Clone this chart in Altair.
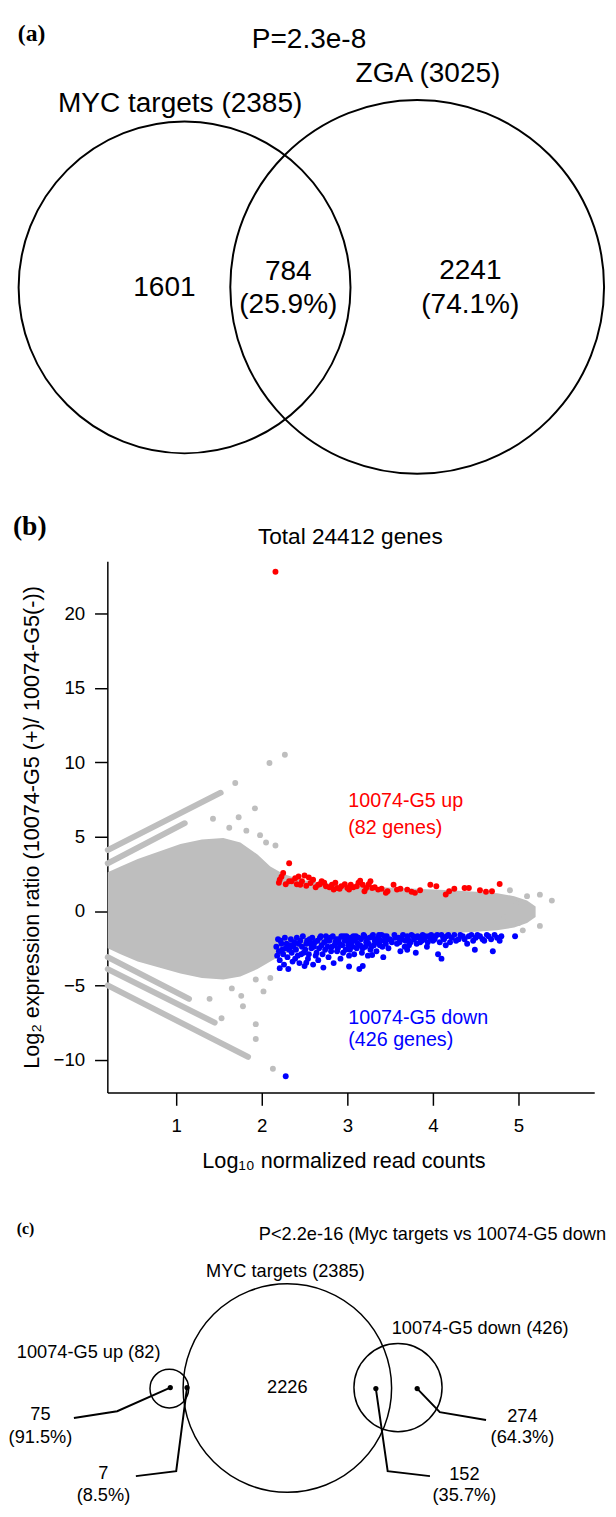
import altair as alt
import pandas as pd

SANS = "Liberation Sans"
SERIF = "Liberation Serif"
GREY = "#BEBEBE"

# ---------------- data: panel (a) ----------------
A_SET_NAMES = ["MYC targets", "ZGA"]
A_SET_TOTALS = [2385, 3025]
A_REGION_COUNTS = [1601, 784, 2241]
A_REGION_PCTS = ["", "25.9%", "74.1%"]
A_P_VALUE = "2.3e-8"

# ---------------- data: panel (b) ----------------
B_TITLE = "Total 24412 genes"
B_X_TICKS = [1, 2, 3, 4, 5]
B_Y_TICKS = [-10, -5, 0, 5, 10, 15, 20]
# dense grey core (log10 counts, upper / lower log2 ratio envelope)
CORE_U = [0.20, 0.35, 0.55, 0.80, 1.05, 1.30, 1.55, 1.75, 1.95, 2.10, 2.25, 2.45,
          2.70, 3.00, 3.40, 3.80, 4.20, 4.50, 4.75, 4.95, 5.10, 5.20]
CORE_TOP = [2.6, 3.0, 3.5, 4.0, 4.5, 4.8, 4.9, 4.6, 3.8, 3.0, 2.5, 2.1,
            1.9, 1.7, 1.6, 1.5, 1.4, 1.3, 1.2, 1.0, 0.7, 0.3]
CORE_BOTTOM = [-2.5, -2.9, -3.4, -3.8, -4.2, -4.5, -4.6, -4.4, -3.9, -3.4, -2.9, -2.5,
               -2.2, -1.9, -1.7, -1.6, -1.5, -1.4, -1.3, -1.1, -0.8, -0.4]
# low-count diagonal stripes
STRIPE_ID = ["s1", "s1", "s2", "s2", "s3", "s3", "s4", "s4", "s5", "s5"]
STRIPE_U = [0.20, 1.52, 0.20, 1.10, 0.20, 1.15, 0.20, 1.45, 0.20, 1.84]
STRIPE_V = [4.1, 7.95, 3.2, 5.9, -3.1, -5.9, -3.9, -7.5, -5.0, -9.8]
# isolated grey genes
GREY_U = [1.43, 1.69, 1.73, 1.92, 2.09, 2.27, 1.62, 1.82, 1.98, 2.16, 2.05,
          1.39, 1.53, 1.78, 1.93, 1.93, 2.13, 1.93, 2.02, 1.76, 1.65, 2.10,
          4.97, 5.10, 5.25, 5.39, 5.25, 4.83, 5.05, 4.90, 5.00]
GREY_V = [6.2, 8.6, 6.3, 6.9, 9.95, 10.5, 5.6, 5.4, 5.1, 4.4, 4.6,
          -5.9, -7.2, -6.4, -7.6, -8.6, -10.6, -4.6, -5.4, -5.7, -5.2, -4.5,
          0.55, 1.0, 1.1, 0.7, -1.0, -0.4, -1.3, 1.4, -0.8]
# 10074-G5 up genes (red)
UP_U = [2.16, 2.32, 2.21, 2.25, 2.32, 2.39, 2.43, 2.50, 2.55, 2.45, 2.57, 2.70, 2.75,
        2.82, 2.88, 2.93, 3.00, 3.04, 3.15, 3.18, 3.22, 3.27, 3.29, 3.36, 3.47, 3.58,
        3.70, 3.79, 3.97, 4.04, 4.15, 4.19, 4.37, 4.42, 4.69, 4.78, 3.02, 2.66, 2.84,
        3.11, 3.20, 3.45, 3.54,
        2.20, 2.23, 2.28, 2.35, 2.41, 2.47, 2.52, 2.60, 2.63, 2.68, 2.73, 2.79, 2.86,
        2.91, 2.97, 3.07, 3.13, 3.25, 3.32, 3.40, 3.62, 3.75, 3.85, 4.25, 4.55, 4.62]
UP_V = [22.8, 3.21, 2.10, 2.55, 2.00, 2.20, 2.32, 2.39, 2.26, 1.77, 1.88, 2.00, 1.66,
        1.77, 1.55, 1.66, 1.55, 1.77, 2.04, 1.77, 1.55, 2.00, 1.55, 1.44, 1.33, 1.44,
        1.44, 1.22, 1.77, 1.66, 1.11, 1.33, 1.55, 1.55, 1.33, 1.82, 1.44, 1.77, 1.44,
        1.66, 1.33, 1.22, 1.77,
        1.9, 2.3, 1.8, 2.0, 1.8, 2.0, 1.7, 2.1, 1.6, 1.8, 1.9, 1.6, 1.9,
        1.5, 1.8, 1.6, 1.9, 1.8, 1.6, 1.5, 1.5, 1.3, 1.4, 1.5, 1.4, 1.3]
# 10074-G5 down genes (blue)
DOWN_U = [2.28, 2.17, 2.18, 2.20, 2.21, 2.23, 2.25, 2.26, 2.28, 2.30, 2.31, 2.33, 2.35,
          2.36, 2.38, 2.40, 2.42, 2.44, 2.45, 2.47, 2.49, 2.50, 2.52, 2.54, 2.56, 2.58,
          2.60, 2.62, 2.64, 2.66, 2.68, 2.70, 2.72, 2.74, 2.76, 2.78, 2.80, 2.82, 2.84,
          2.86, 2.88, 2.90, 2.92, 2.94, 2.96, 2.98, 3.00, 3.02, 3.04, 3.06, 3.08, 3.10,
          3.12, 3.14, 3.16, 3.18, 3.20, 3.22, 3.24, 3.26, 3.28, 3.30, 3.32, 3.34, 3.36,
          3.38, 3.40, 3.42, 3.44, 3.46, 3.48, 3.50, 3.55, 3.58, 3.60, 3.62, 3.65, 3.68,
          3.70, 3.72, 3.75, 3.78, 3.80, 3.82, 3.85, 3.88, 3.90, 3.93, 3.95, 3.98, 4.00,
          4.03, 4.06, 4.10, 4.13, 4.16, 4.20, 4.25, 4.30, 4.35, 4.40, 4.45, 4.50, 4.55,
          4.60, 4.65, 4.70, 4.75, 4.80, 4.96, 4.10, 4.49, 3.70, 3.29, 3.18, 3.02, 2.52,
          2.21,
          2.19, 2.22, 2.24, 2.27, 2.29, 2.32, 2.34, 2.37, 2.39, 2.41, 2.43, 2.46, 2.48,
          2.51, 2.53, 2.55, 2.57, 2.59, 2.61, 2.63, 2.65, 2.67, 2.69, 2.71, 2.73, 2.75,
          2.77, 2.79, 2.81, 2.83, 2.85, 2.87, 2.89, 2.91, 2.93, 2.95, 2.97, 2.99, 3.01,
          3.03, 3.05, 3.07, 3.09, 3.11, 3.13, 3.15, 3.17, 3.19, 3.21, 3.23, 3.25, 3.27,
          3.29, 3.31, 3.33, 3.35, 3.37, 3.39, 3.41, 3.43, 3.45, 3.47, 3.52, 3.56, 3.61,
          3.64, 3.67, 3.71, 3.74, 3.77, 3.81, 3.84, 3.87, 3.91, 3.94, 3.97, 4.02, 4.05,
          4.08, 4.12, 4.15, 4.18, 4.22, 4.27, 4.32, 4.37, 4.42, 4.47, 4.52, 4.58, 4.63,
          4.68, 4.72, 4.78]
DOWN_V = [-11.1, -2.4, -3.0, -2.7, -3.3, -2.2, -2.9, -3.6, -2.5, -3.1, -3.9, -2.3, -2.8,
          -3.4, -2.1, -2.6, -3.0, -3.5, -2.0, -2.4, -2.8, -3.7, -2.2, -3.2, -1.9, -2.5,
          -3.6, -2.1, -2.8, -3.3, -1.8, -2.3, -3.8, -2.6, -2.0, -3.1, -1.8, -2.4, -3.5,
          -2.1, -2.7, -1.9, -3.2, -2.3, -1.7, -2.6, -2.0, -3.0, -1.8, -2.4, -2.9, -1.7,
          -2.2, -3.9, -1.9, -2.5, -1.7, -2.1, -3.0, -1.8, -2.4, -1.6, -2.0, -2.7, -1.8,
          -2.3, -1.6, -3.1, -2.0, -1.7, -2.5, -1.9, -1.6, -2.2, -1.8, -2.7, -1.6, -2.0,
          -1.7, -2.3, -1.6, -1.9, -2.8, -1.7, -2.1, -1.6, -1.9, -2.4, -1.7, -1.6, -2.0,
          -1.7, -2.9, -1.6, -1.9, -1.7, -2.1, -1.6, -1.9, -1.7, -2.2, -1.6, -1.8, -1.7,
          -2.0, -1.7, -2.7, -1.8, -1.7, -1.7, -3.2, -2.6, -2.6, -2.96, -3.69, -3.73, -3.47,
          -3.84,
          -1.9, -2.0, -2.6, -1.8, -2.2, -2.6, -1.9, -2.4, -3.2, -1.8, -2.2, -2.9, -1.7,
          -2.6, -2.0, -2.9, -2.2, -1.8, -2.4, -3.0, -2.0, -2.5, -1.7, -2.9, -2.1, -1.7,
          -2.4, -2.0, -2.7, -1.7, -2.3, -1.9, -2.5, -2.2, -1.7, -2.8, -2.0, -1.7, -2.3,
          -2.6, -2.1, -1.7, -2.0, -2.5, -1.8, -2.3, -2.8, -1.6, -2.4, -1.9, -2.2, -2.6,
          -1.7, -2.3, -1.9, -2.1, -1.6, -2.0, -2.4, -1.7, -2.2, -1.9, -2.1, -1.8, -2.1,
          -1.9, -2.4, -1.9, -2.1, -1.7, -2.2, -1.8, -2.0, -1.7, -2.1, -1.8, -1.9, -1.6,
          -2.1, -1.8, -2.3, -1.6, -1.8, -2.0, -1.6, -1.9, -1.7, -2.0, -1.6, -1.9, -1.6,
          -1.9, -1.6, -2.0]
UP_LABEL = ["10074-G5 up", "(82 genes)"]
DOWN_LABEL = ["10074-G5 down", "(426 genes)"]

# ---------------- data: panel (c) ----------------
C_SET_NAMES = ["10074-G5 up", "MYC targets", "10074-G5 down"]
C_SET_TOTALS = [82, 2385, 426]
C_REGION_COUNTS = [75, 7, 2226, 152, 274]
C_REGION_PCTS = ["91.5%", "8.5%", "", "35.7%", "64.3%"]
C_P_TEXT = "P<2.2e-16 (Myc targets vs 10074-G5 down"

# ---------------- layout (page pixels) ----------------
LEFT, RIGHT = 108, 603
A_TOP, B_TOP, C_TOP, C_BOTTOM = 8, 558, 1098, 1510
B_XDOM = [1 - 70 / 87, 1 + 425 / 87]
B_YDOM = [-184.5 / 15.13, 355.5 / 15.13]

A_CX = [186.5, 423.0]
A_CY = [279.5, 279.0]
A_NAME_XY = [(182, 92), (434, 62)]
A_REGION_XY = [(166, 279, None), (292, 263, 297), (477, 262, 297)]

C_CX = [171, 291, 403.5]
C_CY = [1399, 1398.5, 1398]
C_NAME_XY = [(89, 1362), (289, 1280), (487, 1338)]
C_REGION_XY = [(40, 1425, 1448), (104, 1485, 1507), (291, 1398, None),
               (471, 1486, 1507), (530, 1427, 1448)]
C_DOTS = [(172, 1398), (189, 1398), None, (381, 1399), (423, 1399)]
C_LEADERS = [[(172, 1398), (118, 1422), (74, 1429)],
             [(189, 1398), (178, 1483), (137, 1488)],
             None,
             [(381, 1399), (393, 1483), (436, 1488)],
             [(423, 1399), (446, 1423), (493, 1431)]]


def page_x():
    return alt.Scale(domain=[LEFT, RIGHT], nice=False, zero=False)


def page_y(top, bottom):
    return alt.Scale(domain=[top, bottom], reverse=True, nice=False, zero=False)


def text_layer(df, size, font=SANS, align="center", weight="normal", color="black", sy=None):
    return alt.Chart(df).mark_text(
        font=font, fontSize=size, align=align, baseline="middle",
        fontWeight=weight, color=color
    ).encode(
        x=alt.X("x:Q", scale=page_x(), axis=None),
        y=alt.Y("y:Q", scale=sy, axis=None),
        text="t:N",
    )


# ================= panel (a) =================
syA = page_y(A_TOP, B_TOP)
a_circles = pd.DataFrame({"x": A_CX, "y": A_CY, "total": A_SET_TOTALS})
A_circ = alt.Chart(a_circles).mark_point(
    shape="circle", filled=False, color="black", strokeWidth=2, opacity=1
).encode(
    x=alt.X("x:Q", scale=page_x(), axis=None),
    y=alt.Y("y:Q", scale=syA, axis=None),
    size=alt.Size("total:Q", scale=alt.Scale(domain=[0, 3025], range=[0, 144400]), legend=None),
)
a_names = pd.DataFrame({
    "x": [p[0] for p in A_NAME_XY], "y": [p[1] for p in A_NAME_XY],
    "t": [f"{n} ({c})" for n, c in zip(A_SET_NAMES, A_SET_TOTALS)],
})
a_rows = []
for (x, y1, y2), cnt, pct in zip(A_REGION_XY, A_REGION_COUNTS, A_REGION_PCTS):
    a_rows.append({"x": x, "y": y1, "t": str(cnt)})
    if pct:
        a_rows.append({"x": x, "y": y2, "t": f"({pct})"})
a_regions = pd.DataFrame(a_rows)
a_p = pd.DataFrame({"x": [313], "y": [27], "t": [f"P={A_P_VALUE}"]})
a_tag = pd.DataFrame({"x": [17], "y": [22], "t": ["(a)"]})
anchor = alt.Chart(pd.DataFrame({"x": [8.5], "y": [8.5], "y2": [12]})).mark_rule(
    opacity=0, strokeWidth=1
).encode(
    x=alt.X("x:Q", scale=page_x(), axis=None),
    y=alt.Y("y:Q", scale=syA, axis=None),
    y2="y2:Q",
)
panelA = alt.layer(
    anchor, A_circ,
    text_layer(a_names, 28.5, sy=syA),
    text_layer(a_regions, 28.5, sy=syA),
    text_layer(a_p, 28.5, sy=syA),
    text_layer(a_tag, 24, font=SERIF, align="left", weight="bold", sy=syA),
).properties(width=RIGHT - LEFT, height=B_TOP - A_TOP)

# ================= panel (b) =================
ax_x = alt.Axis(
    values=B_X_TICKS, tickSize=13, tickWidth=1.5, tickColor="black",
    domainColor="black", domainWidth=1.5, grid=False,
    labelFont=SANS, labelFontSize=19, labelColor="black", labelPadding=12,
    title="Log\u2081\u2080 normalized read counts", titleFont=SANS, titleFontSize=22,
    titleFontWeight="normal", titleColor="black",
    titleX=240, titleY=69, titleAlign="center", titleBaseline="middle",
)
ax_y = alt.Axis(
    values=B_Y_TICKS, tickSize=13, tickWidth=1.5, tickColor="black",
    domainColor="black", domainWidth=1.5, grid=False,
    labelFont=SANS, labelFontSize=19, labelColor="black", labelPadding=10, labelAngle=0,
    title="Log\u2082 expression ratio (10074-G5 (+)/ 10074-G5(-))",
    titleFont=SANS, titleFontSize=22, titleFontWeight="normal", titleColor="black",
    titleX=-77, titleY=270, titleAlign="center", titleBaseline="middle", titleAngle=270,
)
sxB = alt.Scale(domain=B_XDOM, nice=False, zero=False)
syB = alt.Scale(domain=B_YDOM, nice=False, zero=False)
X = alt.X("u:Q", scale=sxB, axis=ax_x)
Y = alt.Y("v:Q", scale=syB, axis=ax_y)

core = alt.Chart(pd.DataFrame({"u": CORE_U, "v": CORE_TOP, "v2": CORE_BOTTOM})).mark_area(
    color=GREY, opacity=1
).encode(x=X, y=Y, y2="v2:Q")
stripes = alt.Chart(pd.DataFrame({"sid": STRIPE_ID, "u": STRIPE_U, "v": STRIPE_V})).mark_line(
    color=GREY, strokeWidth=6, strokeCap="round"
).encode(x=X, y=Y, detail="sid:N")
grey_pts = alt.Chart(pd.DataFrame({"u": GREY_U, "v": GREY_V})).mark_circle(
    size=36, color=GREY, opacity=1
).encode(x=X, y=Y)
up_pts = alt.Chart(pd.DataFrame({"u": UP_U, "v": UP_V})).mark_circle(
    size=36, color="#FF0000", opacity=1
).encode(x=X, y=Y)
down_pts = alt.Chart(pd.DataFrame({"u": DOWN_U, "v": DOWN_V})).mark_circle(
    size=36, color="#0000FF", opacity=1
).encode(x=X, y=Y)


def px_text(lines, xs, ys, size, color="black", align="left", font=SANS, weight="normal"):
    layers = []
    for t, x, y in zip(lines, xs, ys):
        layers.append(
            alt.Chart(pd.DataFrame({"t": [t]})).mark_text(
                font=font, fontSize=size, align=align, baseline="middle",
                color=color, fontWeight=weight
            ).encode(x=alt.value(x - LEFT), y=alt.value(y - B_TOP), text="t:N")
        )
    return layers


b_texts = (
    px_text([B_TITLE], [355], [533], 23, align="center")
    + px_text(["(b)"], [12], [523], 28, font=SERIF, weight="bold")
    + px_text(UP_LABEL, [353, 353], [802, 829], 20, color="#FF0000")
    + px_text(DOWN_LABEL, [353, 353], [1022, 1045], 20, color="#0000FF")
)
panelB = alt.layer(core, stripes, grey_pts, up_pts, down_pts, *b_texts).properties(
    width=RIGHT - LEFT, height=C_TOP - B_TOP
)

# ================= panel (c) =================
syC = page_y(C_TOP, C_BOTTOM)
c_circles = pd.DataFrame({"x": C_CX, "y": C_CY, "total": C_SET_TOTALS})
C_circ = alt.Chart(c_circles).mark_point(
    shape="circle", filled=False, color="black", strokeWidth=1.5, opacity=1
).encode(
    x=alt.X("x:Q", scale=page_x(), axis=None),
    y=alt.Y("y:Q", scale=syC, axis=None),
    size=alt.Size("total:Q", scale=alt.Scale(domain=[0, 2385], range=[0, 44944]), legend=None),
)
c_names = pd.DataFrame({
    "x": [p[0] for p in C_NAME_XY], "y": [p[1] for p in C_NAME_XY],
    "t": [f"{n} ({c})" for n, c in zip(C_SET_NAMES, C_SET_TOTALS)],
})
c_rows, dot_rows, lead_rows = [], [], []
for i, ((x, y1, y2), cnt, pct) in enumerate(zip(C_REGION_XY, C_REGION_COUNTS, C_REGION_PCTS)):
    c_rows.append({"x": x, "y": y1, "t": str(cnt)})
    if pct:
        c_rows.append({"x": x, "y": y2, "t": f"({pct})"})
    if C_DOTS[i] is not None:
        dot_rows.append({"x": C_DOTS[i][0], "y": C_DOTS[i][1]})
    if C_LEADERS[i] is not None:
        for k, (lx, ly) in enumerate(C_LEADERS[i]):
            lead_rows.append({"id": str(cnt), "k": k, "x": lx, "y": ly})
c_regions = pd.DataFrame(c_rows)
c_dots = alt.Chart(pd.DataFrame(dot_rows)).mark_circle(size=28, color="black", opacity=1).encode(
    x=alt.X("x:Q", scale=page_x(), axis=None),
    y=alt.Y("y:Q", scale=syC, axis=None),
)
c_leads = alt.Chart(pd.DataFrame(lead_rows)).mark_line(color="black", strokeWidth=2).encode(
    x=alt.X("x:Q", scale=page_x(), axis=None),
    y=alt.Y("y:Q", scale=syC, axis=None),
    detail="id:N",
    order="k:Q",
)
c_p = pd.DataFrame({"x": [262], "y": [1242], "t": [C_P_TEXT]})
c_tag = pd.DataFrame({"x": [16], "y": [1237], "t": ["(c)"]})
panelC = alt.layer(
    C_circ, c_leads, c_dots,
    text_layer(c_names, 18.5, sy=syC),
    text_layer(c_regions, 18.5, sy=syC),
    text_layer(c_p, 18.5, align="left", sy=syC),
    text_layer(c_tag, 16, font=SERIF, align="left", weight="bold", sy=syC),
).properties(width=RIGHT - LEFT, height=C_BOTTOM - C_TOP)

chart = alt.vconcat(panelA, panelB, panelC, spacing=0, bounds="flush").resolve_scale(
    x="independent", y="independent", size="independent"
).properties(padding=0).configure_view(strokeWidth=0)

chart.save("out.html", embed_options={"renderer": "svg", "actions": False})
